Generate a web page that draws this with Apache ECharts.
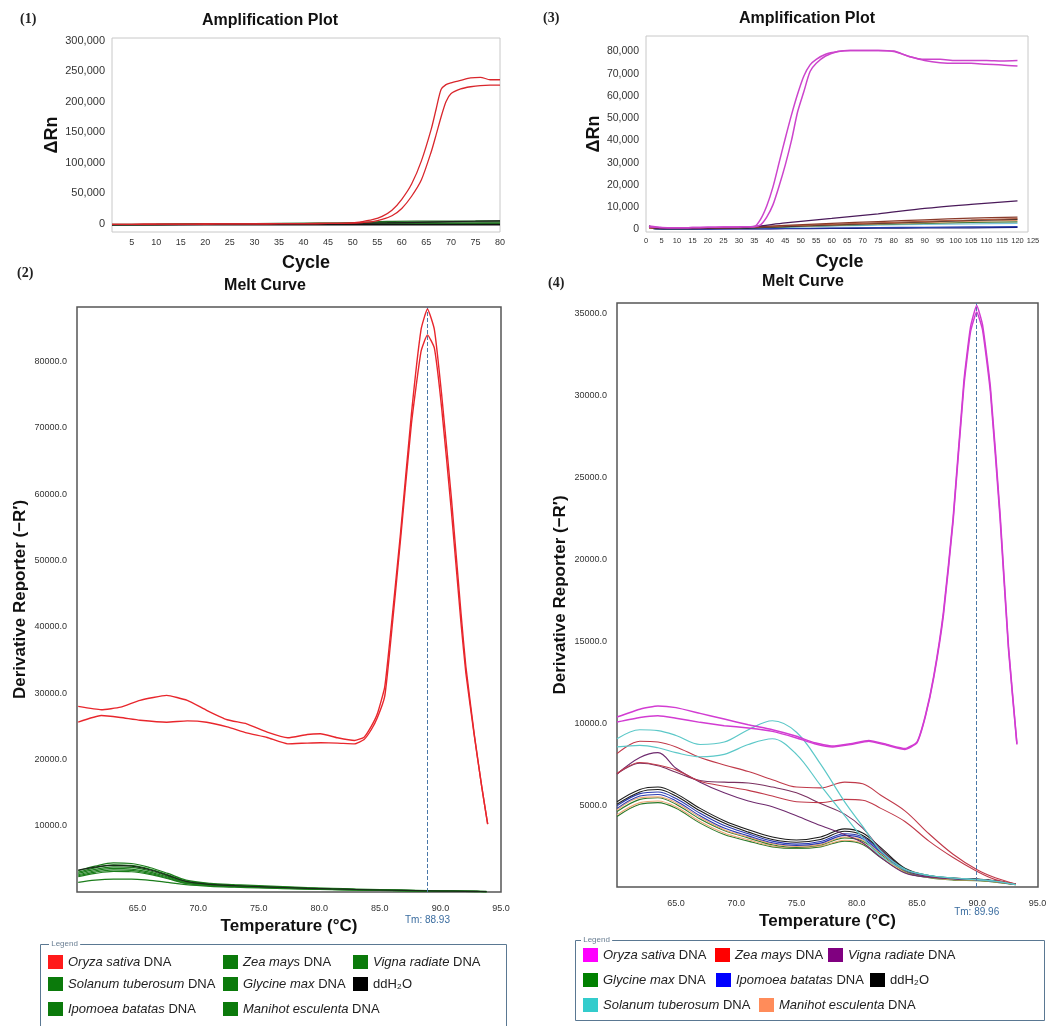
<!DOCTYPE html>
<html>
<head>
<meta charset="utf-8">
<title>Amplification plots and melt curves</title>
<script src="https://cdn.jsdelivr.net/npm/echarts@6/dist/echarts.min.js"></script>
<style>
  html, body { margin: 0; padding: 0; background: #fff; }
  #main { width: 1047px; height: 1026px; }
</style>
</head>
<body>
<div id="main"></div>
<script>
// ---------- data ----------

// (1) amplification plot, cycles 1-80
var ampCycles1 = [1, 5, 10, 15, 20, 25, 30, 35, 40, 45, 50, 52, 54, 56, 58, 60, 62, 64, 66, 67, 68, 69, 70, 72, 74, 76, 78, 80];
var oryzaAmp1A = [-1000, -1000, -800, -600, -500, -300, -200, 0, 200, 500, 1500, 3500, 6500, 12000, 22000, 40000, 65000, 103000, 155000, 188000, 220000, 228000, 231000, 235000, 239000, 240000, 236000, 236000];
var oryzaAmp1B = [-1000, -1000, -800, -600, -500, -300, -200, 0, 200, 400, 1000, 2000, 3500, 7000, 13000, 25000, 45000, 72000, 118000, 146000, 175000, 200000, 213000, 221000, 224500, 226500, 227000, 227000];
var baseCycles1 = [1, 10, 20, 30, 40, 50, 57, 65, 75, 80];
var greenAmp1A = [-1500, -1200, -400, 0, 700, 1500, 3800, 4200, 4400, 4600];
var greenAmp1B = [-1300, -1100, -600, -300, 300, 900, 1800, 2300, 2600, 2800];
var greenAmp1C = [-1500, -1400, -900, -700, -300, 100, 300, 500, 700, 800];
var greenAmp1D = [-1400, -1300, -1000, -800, -600, -400, -300, -200, -100, 0];
var waterAmp1A = [-1800, -1700, -1700, -1600, -1600, -1600, -1600, -1600, -1600, -1600];
var waterAmp1B = [-1600, -1500, -1200, -900, -300, 500, 1200, 2500, 4000, 4500];
var cycleTicks1 = [5, 10, 15, 20, 25, 30, 35, 40, 45, 50, 55, 60, 65, 70, 75, 80];
var ampTicks1 = [0, 50000, 100000, 150000, 200000, 250000, 300000];

// (3) amplification plot, cycles 1-120
var ampCycles3 = [1, 5, 10, 15, 20, 25, 30, 35, 37, 39, 41, 43, 45, 47, 49, 51, 53, 55, 58, 62, 66, 70, 75, 80, 85, 90, 95, 100, 105, 110, 115, 120];
var oryzaAmp3A = [1500, 800, 700, 800, 900, 1000, 1100, 1300, 4500, 10500, 19000, 30000, 41000, 51500, 61000, 69000, 74000, 76500, 78800, 80000, 80500, 80500, 80500, 80200, 77800, 76500, 76500, 76000, 76000, 76000, 75800, 76000];
var oryzaAmp3B = [1000, 800, 700, 800, 900, 1000, 1100, 1200, 2000, 5500, 11000, 19500, 29000, 40000, 53000, 62000, 71000, 74700, 78000, 80000, 80500, 80500, 80500, 80000, 77800, 76000, 75000, 74700, 74700, 74300, 74000, 73500];
var baseCycles3 = [1, 3, 10, 20, 30, 35, 45, 60, 75, 90, 105, 120];
var vignaAmp3 = [1500, 600, 500, 700, 900, 1300, 2900, 4900, 7000, 9400, 11200, 12800];
var zeaAmp3A = [800, 500, 500, 700, 900, 1100, 1800, 2700, 3500, 4300, 5000, 5500];
var zeaAmp3B = [700, 400, 400, 600, 800, 1000, 1500, 2200, 2900, 3600, 4200, 4800];
var waterAmp3 = [1600, 400, 300, 400, 500, 700, 1200, 2000, 2700, 3400, 4000, 4500];
var glycineAmp3 = [600, 300, 300, 500, 700, 800, 1100, 1700, 2200, 2700, 3100, 3400];
var manihotAmp3 = [500, 400, 500, 700, 800, 900, 1300, 1900, 2500, 3000, 3600, 4000];
var solanumAmp3 = [700, 600, 600, 700, 800, 800, 1000, 1500, 1900, 2200, 2500, 2700];
var ipomoeaAmp3A = [900, 300, 200, 200, 300, 300, 400, 600, 800, 900, 1100, 1200];
var ipomoeaAmp3B = [1200, 200, 100, 100, 200, 200, 300, 400, 500, 600, 700, 900];
var cycleTicks3 = [0, 5, 10, 15, 20, 25, 30, 35, 40, 45, 50, 55, 60, 65, 70, 75, 80, 85, 90, 95, 100, 105, 110, 115, 120, 125];
var ampTicks3 = [0, 10000, 20000, 30000, 40000, 50000, 60000, 70000, 80000];

// (2) melt curve
var meltTemps2 = [60.1, 61.5, 63, 64.5, 66, 67.5, 69, 71, 73, 75, 77, 79, 81, 83, 85, 87, 89, 91, 93, 93.8];
var zeaMelt2 = [3200, 3900, 4400, 4300, 3700, 2800, 1800, 1300, 1100, 950, 800, 650, 550, 450, 350, 280, 200, 150, 100, 80];
var vignaMelt2 = [3000, 3650, 4100, 4000, 3450, 2600, 1650, 1200, 1000, 850, 720, 600, 500, 400, 320, 250, 180, 130, 90, 70];
var solanumMelt2 = [2800, 3400, 3800, 3700, 3200, 2400, 1550, 1150, 950, 800, 680, 560, 460, 370, 300, 230, 170, 120, 80, 60];
var glycineMelt2 = [2600, 3200, 3550, 3450, 3000, 2250, 1450, 1100, 900, 750, 630, 520, 430, 350, 280, 220, 160, 110, 80, 60];
var ipomoeaMelt2 = [2450, 3000, 3350, 3250, 2800, 2100, 1350, 1000, 850, 700, 600, 500, 410, 330, 270, 210, 150, 100, 70, 50];
var manihotMelt2 = [2300, 2800, 3100, 3050, 2650, 2000, 1300, 950, 800, 680, 570, 470, 390, 320, 260, 200, 140, 100, 70, 50];
var vignaMelt2B = [1450, 1800, 1950, 1950, 1750, 1450, 1100, 850, 720, 620, 520, 430, 360, 300, 240, 180, 130, 90, 60, 40];
var waterMelt2 = [3300, 3750, 4000, 3900, 3350, 2500, 1600, 1150, 950, 800, 680, 560, 460, 380, 300, 230, 170, 120, 80, 60];
var oryzaTemps2 = [60.1, 62, 63.6, 65.2, 67.4, 69.1, 70.7, 72.4, 74, 75.7, 77.4, 79, 80.1, 81.5, 82.9, 83.7, 84.3, 84.8, 85.4, 85.8, 86.7, 87.6, 88.4, 88.93, 89.5, 90.1, 90.9, 91.7, 92.1, 92.8, 93.4, 93.9];
var oryzaMelt2A = [27980, 27480, 27870, 28900, 29640, 28900, 27400, 25970, 25360, 24100, 23250, 23750, 23850, 23250, 22850, 23340, 25000, 26900, 30900, 37500, 54000, 72000, 84800, 87900, 84800, 75000, 59500, 42000, 34000, 23700, 16000, 10250];
var oryzaMelt2B = [25600, 26600, 26300, 25900, 25600, 25800, 25600, 24900, 24000, 23300, 22340, 22450, 22500, 22450, 22340, 23000, 24500, 26300, 29500, 36000, 53000, 70500, 81500, 84000, 82000, 73000, 57500, 40500, 33000, 23500, 16000, 10250];
var meltTicksX = [65, 70, 75, 80, 85, 90, 95];
var meltTicks2 = [10000, 20000, 30000, 40000, 50000, 60000, 70000, 80000];
var tm2 = 88.93;

// (4) melt curve
var meltTemps4 = [60.1, 62, 63.5, 65, 67, 69, 71, 73, 75, 77, 79, 80.5, 82, 84, 86, 88, 90, 91.5, 93.2];
var solanumMelt4A = [9050, 9600, 9550, 9250, 8700, 8850, 9600, 10150, 9450, 7500, 5200, 3700, 2200, 1100, 700, 550, 450, 350, 150];
var solanumMelt4B = [8550, 8650, 8500, 8200, 7950, 8100, 8700, 9050, 8100, 6200, 4350, 3000, 1900, 1050, 700, 550, 450, 350, 150];
var zeaMelt4A = [8140, 8900, 8850, 8550, 7900, 7450, 7050, 6550, 6100, 6050, 6400, 6300, 5600, 4650, 3250, 2000, 1050, 560, 180];
var zeaMelt4B = [6930, 7600, 7450, 7150, 6450, 6150, 5900, 5550, 5200, 5150, 5350, 5300, 4800, 4000, 2800, 1800, 950, 450, 180];
var vignaMelt4A = [6900, 7900, 8200, 7250, 6400, 5750, 5250, 4900, 4350, 3750, 3200, 2700, 1800, 850, 600, 520, 450, 350, 150];
var vignaMelt4B = [6900, 7550, 7400, 7000, 6500, 6400, 6350, 6100, 5750, 5100, 4450, 3600, 2300, 1050, 650, 520, 450, 350, 150];
var waterMelt4A = [5200, 5950, 6100, 5700, 4800, 4050, 3500, 3050, 2870, 3050, 3550, 3300, 2400, 1150, 700, 550, 480, 380, 180];
var waterMelt4B = [5050, 5800, 5950, 5550, 4650, 3900, 3350, 2900, 2730, 2900, 3400, 3150, 2280, 1100, 680, 540, 470, 370, 170];
var ipomoeaMelt4A = [4950, 5700, 5800, 5400, 4500, 3750, 3250, 2800, 2620, 2780, 3250, 3050, 2200, 1050, 660, 520, 460, 360, 160];
var ipomoeaMelt4B = [4800, 5550, 5650, 5250, 4350, 3600, 3120, 2700, 2530, 2680, 3150, 2950, 2120, 1020, 640, 510, 450, 350, 160];
var manihotMelt4A = [4700, 5450, 5500, 5150, 4250, 3500, 3050, 2650, 2480, 2600, 3050, 2850, 2050, 1000, 620, 490, 430, 340, 150];
var manihotMelt4B = [4400, 5150, 5250, 4900, 4000, 3300, 2880, 2500, 2400, 2500, 2850, 2650, 1850, 930, 580, 440, 400, 310, 140];
var glycineMelt4A = [4600, 5350, 5450, 5050, 4150, 3450, 3000, 2580, 2420, 2560, 3000, 2800, 2000, 980, 600, 480, 420, 330, 150];
var glycineMelt4B = [4300, 5050, 5150, 4800, 3900, 3200, 2800, 2450, 2350, 2450, 2800, 2600, 1800, 900, 560, 420, 380, 300, 140];
var oryzaTemps4 = [60.1, 62, 63.5, 65, 67, 69, 71, 73, 75, 76.5, 78, 79.5, 81, 82.5, 84, 85, 85.7, 86.4, 87.2, 88, 88.9, 89.45, 89.96, 90.45, 91.1, 91.9, 92.6, 93.3];
var oryzaMelt4A = [10375, 10850, 11050, 10950, 10600, 10250, 9900, 9600, 9200, 8800, 8600, 8750, 8950, 8700, 8450, 8850, 10470, 12900, 16800, 22500, 30900, 34200, 35500, 34300, 30500, 22800, 14700, 8750];
var oryzaMelt4B = [10070, 10350, 10450, 10300, 10050, 9850, 9700, 9500, 9100, 8750, 8550, 8700, 8900, 8650, 8400, 8800, 10400, 12800, 16600, 22300, 30600, 33900, 35100, 34000, 30200, 22500, 14500, 8700];
var meltTicks4 = [5000, 10000, 15000, 20000, 25000, 30000, 35000];
var tm4 = 89.96;

// legend entries (species, swatch colour)
var legend2Names = ['Oryza sativa', 'Zea mays', 'Vigna radiate', 'Solanum tuberosum', 'Glycine max', 'ddH2O', 'Ipomoea batatas', 'Manihot esculenta'];
var legend2Colors = ['#ff1a1a', '#0b7a0b', '#0b7a0b', '#0b7a0b', '#0b7a0b', '#000000', '#0b7a0b', '#0b7a0b'];
var legend4Names = ['Oryza sativa', 'Zea mays', 'Vigna radiate', 'Glycine max', 'Ipomoea batatas', 'ddH2O', 'Solanum tuberosum', 'Manihot esculenta'];
var legend4Colors = ['#ff00ff', '#ff0000', '#800080', '#008000', '#0000ff', '#000000', '#33cccc', '#ff8c5a'];

// ---------- chart ----------
var FONT = '"Liberation Sans", Arial, sans-serif';
var chart = echarts.init(document.getElementById('main'), null, {renderer: 'canvas'});

function pairs(xs, ys) {
  return xs.map(function (x, i) { return [x, ys[i]]; });
}

function line(grid, panel, sp, xs, ys, color, width, smooth, z) {
  return {
    type: 'line',
    name: panel + '|' + sp,
    xAxisIndex: grid,
    yAxisIndex: grid,
    data: pairs(xs, ys),
    symbol: 'none',
    smooth: smooth,
    silent: true,
    z: z || 2,
    lineStyle: {color: color, width: width},
    itemStyle: {color: color}
  };
}

function legendLabel(name) {
  var sp = name.split('|')[1];
  if (sp === 'ddH2O') return 'ddH₂O';
  return '{i|' + sp + '} DNA';
}

function makeLegends(panel, names, colors, slots) {
  return names.map(function (sp, i) {
    return {
      data: [{name: panel + '|' + sp, itemStyle: {color: colors[i]}}],
      left: slots[i][0], top: slots[i][1],
      padding: 0, itemWidth: 15, itemHeight: 14, icon: 'rect',
      selectedMode: false,
      itemStyle: {borderWidth: 0},
      formatter: legendLabel,
      textStyle: {
        fontFamily: FONT, fontSize: 13, color: '#222',
        rich: {i: {fontFamily: FONT, fontSize: 13, fontStyle: 'italic', color: '#222'}}
      }
    };
  });
}

var slots2 = [[48, 955], [223, 955], [353, 955], [48, 977], [223, 977], [353, 977], [48, 1002], [223, 1002]];
var slots4 = [[583, 948], [715, 948], [828, 948], [583, 973], [716, 973], [870, 973], [583, 998], [759, 998]];

function fixed1(v) { return v.toFixed(1); }
function thousands(v) { return v.toLocaleString('en-US'); }

var nameStyle = {fontFamily: FONT, fontSize: 18, fontWeight: 'bold', color: '#111'};
var nameStyleMelt = {fontFamily: FONT, fontSize: 17, fontWeight: 'bold', color: '#111'};
var noLine = {show: false};

var series = [];
// panel 1
series.push(line(0, 'p1', 'Zea mays', baseCycles1, greenAmp1A, '#1f6b1f', 1.3, 0.3));
series.push(line(0, 'p1', 'Vigna radiate', baseCycles1, greenAmp1B, '#1f6b1f', 1.3, 0.3));
series.push(line(0, 'p1', 'Glycine max', baseCycles1, greenAmp1C, '#2c7a2c', 1.3, 0.3));
series.push(line(0, 'p1', 'Solanum tuberosum', baseCycles1, greenAmp1D, '#1f6b1f', 1.3, 0.3));
series.push(line(0, 'p1', 'ddH2O', baseCycles1, waterAmp1A, '#111', 1.5, 0.3));
series.push(line(0, 'p1', 'ddH2O', baseCycles1, waterAmp1B, '#222', 1.2, 0.3));
series.push(line(0, 'p1', 'Oryza sativa', ampCycles1, oryzaAmp1A, '#d9262c', 1.3, 0.25, 5));
series.push(line(0, 'p1', 'Oryza sativa', ampCycles1, oryzaAmp1B, '#d9262c', 1.3, 0.25, 5));

// panel 2
series.push(line(1, 'p2', 'Zea mays', meltTemps2, zeaMelt2, '#1b7d1b', 1.2, 0.35));
series.push(line(1, 'p2', 'Vigna radiate', meltTemps2, vignaMelt2, '#1b7d1b', 1.2, 0.35));
series.push(line(1, 'p2', 'Vigna radiate', meltTemps2, vignaMelt2B, '#1b7d1b', 1.2, 0.35));
series.push(line(1, 'p2', 'Solanum tuberosum', meltTemps2, solanumMelt2, '#1b7d1b', 1.2, 0.35));
series.push(line(1, 'p2', 'Glycine max', meltTemps2, glycineMelt2, '#1b7d1b', 1.2, 0.35));
series.push(line(1, 'p2', 'Ipomoea batatas', meltTemps2, ipomoeaMelt2, '#1b7d1b', 1.2, 0.35));
series.push(line(1, 'p2', 'Manihot esculenta', meltTemps2, manihotMelt2, '#1b7d1b', 1.2, 0.35));
series.push(line(1, 'p2', 'ddH2O', meltTemps2, waterMelt2, '#1a2a1a', 1.2, 0.35));
var oryza2 = line(1, 'p2', 'Oryza sativa', oryzaTemps2, oryzaMelt2A, '#e8262c', 1.4, 0.15, 5);
oryza2.markLine = {
  silent: true, symbol: ['none', 'none'],
  lineStyle: {color: '#4a78a8', type: 'dashed', width: 1},
  label: {show: true, position: 'start', distance: 23, formatter: 'Tm: ' + tm2.toFixed(2),
    fontFamily: FONT, fontSize: 10, color: '#3b6da0'},
  data: [{xAxis: tm2}]
};
series.push(oryza2);
series.push(line(1, 'p2', 'Oryza sativa', oryzaTemps2, oryzaMelt2B, '#e8262c', 1.4, 0.15, 5));

// panel 3
series.push(line(2, 'p3', 'Ipomoea batatas', baseCycles3, ipomoeaAmp3B, '#14146e', 1.2, 0.3));
series.push(line(2, 'p3', 'Ipomoea batatas', baseCycles3, ipomoeaAmp3A, '#2840b0', 1.2, 0.3));
series.push(line(2, 'p3', 'Solanum tuberosum', baseCycles3, solanumAmp3, '#7cc4d8', 1.2, 0.3));
series.push(line(2, 'p3', 'Glycine max', baseCycles3, glycineAmp3, '#3c7a3c', 1.2, 0.3));
series.push(line(2, 'p3', 'Manihot esculenta', baseCycles3, manihotAmp3, '#e8a070', 1.2, 0.3));
series.push(line(2, 'p3', 'ddH2O', baseCycles3, waterAmp3, '#222', 1.2, 0.3));
series.push(line(2, 'p3', 'Zea mays', baseCycles3, zeaAmp3B, '#b05a40', 1.2, 0.3));
series.push(line(2, 'p3', 'Zea mays', baseCycles3, zeaAmp3A, '#8a3b2a', 1.2, 0.3));
series.push(line(2, 'p3', 'Vigna radiate', baseCycles3, vignaAmp3, '#4a1a5a', 1.3, 0.3));
series.push(line(2, 'p3', 'Oryza sativa', ampCycles3, oryzaAmp3A, '#cc44cc', 1.5, 0.25, 5));
series.push(line(2, 'p3', 'Oryza sativa', ampCycles3, oryzaAmp3B, '#cc44cc', 1.5, 0.25, 5));

// panel 4
series.push(line(3, 'p4', 'Glycine max', meltTemps4, glycineMelt4B, '#2a7a2a', 1.1, 0.35));
series.push(line(3, 'p4', 'Manihot esculenta', meltTemps4, manihotMelt4B, '#f0a878', 1.1, 0.35));
series.push(line(3, 'p4', 'Glycine max', meltTemps4, glycineMelt4A, '#2a7a2a', 1.1, 0.35));
series.push(line(3, 'p4', 'Manihot esculenta', meltTemps4, manihotMelt4A, '#f0a878', 1.1, 0.35));
series.push(line(3, 'p4', 'Ipomoea batatas', meltTemps4, ipomoeaMelt4B, '#2a3ab0', 1.1, 0.35));
series.push(line(3, 'p4', 'Ipomoea batatas', meltTemps4, ipomoeaMelt4A, '#2a3ab0', 1.1, 0.35));
series.push(line(3, 'p4', 'ddH2O', meltTemps4, waterMelt4B, '#1a1a1a', 1.1, 0.35));
series.push(line(3, 'p4', 'ddH2O', meltTemps4, waterMelt4A, '#1a1a1a', 1.1, 0.35));
series.push(line(3, 'p4', 'Vigna radiate', meltTemps4, vignaMelt4A, '#6e2a6e', 1.1, 0.35));
series.push(line(3, 'p4', 'Vigna radiate', meltTemps4, vignaMelt4B, '#7a3060', 1.1, 0.35));
series.push(line(3, 'p4', 'Zea mays', meltTemps4, zeaMelt4A, '#c03a4a', 1.1, 0.35));
series.push(line(3, 'p4', 'Zea mays', meltTemps4, zeaMelt4B, '#c03a4a', 1.1, 0.35));
series.push(line(3, 'p4', 'Solanum tuberosum', meltTemps4, solanumMelt4A, '#5cc8c8', 1.2, 0.35));
series.push(line(3, 'p4', 'Solanum tuberosum', meltTemps4, solanumMelt4B, '#5cc8c8', 1.2, 0.35));
var oryza4 = line(3, 'p4', 'Oryza sativa', oryzaTemps4, oryzaMelt4A, '#d23cd2', 1.5, 0.15, 5);
oryza4.markLine = {
  silent: true, symbol: ['none', 'none'],
  lineStyle: {color: '#4a78a8', type: 'dashed', width: 1},
  label: {show: true, position: 'start', distance: 20, formatter: 'Tm: ' + tm4.toFixed(2),
    fontFamily: FONT, fontSize: 10, color: '#3b6da0'},
  data: [{xAxis: tm4}]
};
series.push(oryza4);
series.push(line(3, 'p4', 'Oryza sativa', oryzaTemps4, oryzaMelt4B, '#d23cd2', 1.5, 0.15, 5));

function tickLabels(values, size, margin, fmt) {
  return {
    show: true, customValues: values, fontFamily: FONT, fontSize: size,
    color: '#333', margin: margin, formatter: fmt, hideOverlap: false
  };
}

var option = {
  animation: false,
  backgroundColor: '#ffffff',
  textStyle: {fontFamily: FONT},
  title: [
    {text: 'Amplification Plot', left: 270, top: 13, textAlign: 'center'},
    {text: 'Melt Curve', left: 265, top: 278, textAlign: 'center'},
    {text: 'Amplification Plot', left: 807, top: 11, textAlign: 'center'},
    {text: 'Melt Curve', left: 803, top: 274, textAlign: 'center'}
  ].map(function (t) {
    t.padding = 0;
    t.textStyle = {fontFamily: FONT, fontSize: 16, fontWeight: 'bold', color: '#111'};
    return t;
  }),
  grid: [
    {left: 112, top: 38, width: 388, height: 194, show: true, borderColor: '#c8c8c8', borderWidth: 1, outerBoundsMode: 'none'},
    {left: 77, top: 307, width: 424, height: 585, show: true, borderColor: '#555', borderWidth: 1.5, outerBoundsMode: 'none'},
    {left: 646, top: 36, width: 382, height: 196, show: true, borderColor: '#c8c8c8', borderWidth: 1, outerBoundsMode: 'none'},
    {left: 617, top: 303, width: 421, height: 584, show: true, borderColor: '#555', borderWidth: 1.5, outerBoundsMode: 'none'},
    {left: 646, top: 36, width: 387, height: 196, show: false, outerBoundsMode: 'none'}
  ],
  xAxis: [
    {type: 'value', gridIndex: 0, min: 1, max: 80, axisLine: noLine, axisTick: noLine, splitLine: noLine,
      axisLabel: tickLabels(cycleTicks1, 9, 6),
      name: 'Cycle', nameLocation: 'middle', nameGap: 22, nameTextStyle: nameStyle},
    {type: 'value', gridIndex: 1, min: 60, max: 95, axisLine: noLine, axisTick: noLine, splitLine: noLine,
      axisLabel: tickLabels(meltTicksX, 9, 12, fixed1),
      name: 'Temperature (°C)', nameLocation: 'middle', nameGap: 26, nameTextStyle: nameStyleMelt},
    {type: 'value', gridIndex: 2, min: 0, max: 123.4, axisLine: noLine, axisTick: noLine, splitLine: noLine,
      axisLabel: {show: false}},
    {type: 'value', gridIndex: 3, min: 60.1, max: 95.05, axisLine: noLine, axisTick: noLine, splitLine: noLine,
      axisLabel: tickLabels(meltTicksX, 9, 12, fixed1),
      name: 'Temperature (°C)', nameLocation: 'middle', nameGap: 26, nameTextStyle: nameStyleMelt},
    {type: 'value', gridIndex: 4, min: 0, max: 125, axisLine: noLine, axisTick: noLine, splitLine: noLine,
      axisLabel: tickLabels(cycleTicks3, 7.5, 5),
      name: 'Cycle', nameLocation: 'middle', nameGap: 21, nameTextStyle: nameStyle}
  ],
  yAxis: [
    {type: 'value', gridIndex: 0, min: -13600, max: 304400, axisLine: noLine, axisTick: noLine, splitLine: noLine,
      axisLabel: tickLabels(ampTicks1, 11, 7, thousands),
      name: 'ΔRn', nameLocation: 'middle', nameGap: 48, nameTextStyle: nameStyle},
    {type: 'value', gridIndex: 1, min: 0, max: 88200, axisLine: noLine, axisTick: noLine, splitLine: noLine,
      axisLabel: tickLabels(meltTicks2, 9, 10, fixed1),
      name: 'Derivative Reporter (−R′)', nameLocation: 'middle', nameGap: 48, nameTextStyle: nameStyleMelt},
    {type: 'value', gridIndex: 2, min: -1200, max: 87000, axisLine: noLine, axisTick: noLine, splitLine: noLine,
      axisLabel: tickLabels(ampTicks3, 10.5, 7, thousands),
      name: 'ΔRn', nameLocation: 'middle', nameGap: 42, nameTextStyle: nameStyle},
    {type: 'value', gridIndex: 3, min: 0, max: 35650, axisLine: noLine, axisTick: noLine, splitLine: noLine,
      axisLabel: tickLabels(meltTicks4, 9, 10, fixed1),
      name: 'Derivative Reporter (−R′)', nameLocation: 'middle', nameGap: 48, nameTextStyle: nameStyleMelt},
    {type: 'value', gridIndex: 4, min: 0, max: 1, show: false}
  ],
  legend: makeLegends('p2', legend2Names, legend2Colors, slots2)
    .concat(makeLegends('p4', legend4Names, legend4Colors, slots4)),
  graphic: [
    {type: 'text', left: 20, top: 12, style: {text: '(1)', font: 'bold 14px "Liberation Serif", serif', fill: '#222'}},
    {type: 'text', left: 17, top: 266, style: {text: '(2)', font: 'bold 14px "Liberation Serif", serif', fill: '#222'}},
    {type: 'text', left: 543, top: 11, style: {text: '(3)', font: 'bold 14px "Liberation Serif", serif', fill: '#222'}},
    {type: 'text', left: 548, top: 276, style: {text: '(4)', font: 'bold 14px "Liberation Serif", serif', fill: '#222'}},
    {type: 'rect', shape: {x: 40.5, y: 944.5, width: 466, height: 95}, style: {fill: 'none', stroke: '#5a7892', lineWidth: 1}, z: 1},
    {type: 'text', x: 49, y: 940, style: {text: ' Legend ', font: '8px ' + FONT, fill: '#6a7f93', backgroundColor: '#fff'}, z: 2},
    {type: 'rect', shape: {x: 575.5, y: 940.5, width: 469, height: 80}, style: {fill: 'none', stroke: '#5a7892', lineWidth: 1}, z: 1},
    {type: 'text', x: 581, y: 936, style: {text: ' Legend ', font: '8px ' + FONT, fill: '#6a7f93', backgroundColor: '#fff'}, z: 2}
  ],
  series: series
};

chart.setOption(option);
</script>
</body>
</html>
